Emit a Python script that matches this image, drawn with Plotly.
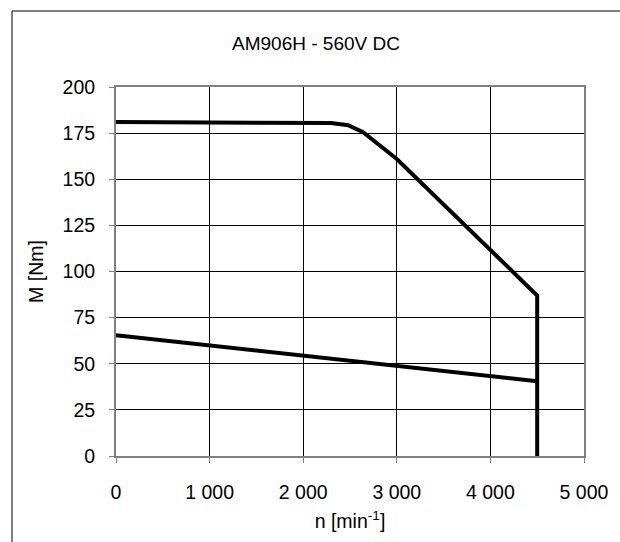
import plotly.graph_objects as go

# Data
upper_n = [0, 2300, 2480, 2640, 3000, 4500, 4500]
upper_M = [181, 180.5, 179.3, 175.5, 161, 87, 0]
lower_n = [0, 4500]
lower_M = [65.5, 40.5]

x_ticks = [0, 1000, 2000, 3000, 4000, 5000]
x_labels = ["0", "1 000", "2 000", "3 000", "4 000", "5 000"]
y_ticks = [0, 25, 50, 75, 100, 125, 150, 175, 200]
y_labels = [str(v) for v in y_ticks]

W, H = 620, 542
L, R, T, B = 116, 36, 87, 86
pw, ph = W - L - R, H - T - B

def px_x(px):
    return (px - L) / pw

def px_y(py):
    return (H - B - py) / ph

FONT = "Liberation Sans, Arial, sans-serif"

fig = go.Figure()
fig.add_trace(go.Scatter(x=upper_n, y=upper_M, mode="lines",
                         line=dict(color="black", width=4), showlegend=False,
                         cliponaxis=False))
fig.add_trace(go.Scatter(x=lower_n, y=lower_M, mode="lines",
                         line=dict(color="black", width=4), showlegend=False,
                         cliponaxis=False))

axis_common = dict(showline=True, linecolor="#808080", linewidth=2, mirror=True,
                   showgrid=True, gridcolor="black", gridwidth=1,
                   ticks="outside", ticklen=5, tickcolor="#808080", tickwidth=1,
                   zeroline=False, tickfont=dict(family=FONT, size=19.5, color="black"),
                   title_font=dict(family=FONT, size=19.5, color="black"))

fig.update_layout(
    width=W, height=H,
    margin=dict(l=L, r=R, t=T, b=B),
    paper_bgcolor="white", plot_bgcolor="white",
    font=dict(family=FONT, color="black"),
    title=dict(text="AM906H - 560V DC", x=316 / W, xanchor="center",
               y=1 - 43 / H, yanchor="middle", yref="container",
               font=dict(family=FONT, size=19, color="black")),
    xaxis=dict(range=[0, 5000], tickvals=x_ticks, ticktext=x_labels,
               title=dict(text="n [min<sup>-1</sup>]", standoff=12),
               ticklabelstandoff=13, **axis_common),
    yaxis=dict(range=[0, 200], tickvals=y_ticks, ticktext=y_labels,
               title=dict(text="M [Nm]", standoff=14),
               ticklabelstandoff=10, **axis_common),
    shapes=[
        dict(type="line", xref="paper", yref="paper",
             x0=px_x(12), y0=px_y(11), x1=px_x(700), y1=px_y(11),
             line=dict(color="black", width=1)),
        dict(type="line", xref="paper", yref="paper",
             x0=px_x(12), y0=px_y(11), x1=px_x(12), y1=px_y(700),
             line=dict(color="black", width=1)),
    ],
)

fig.write_html("out.html")
